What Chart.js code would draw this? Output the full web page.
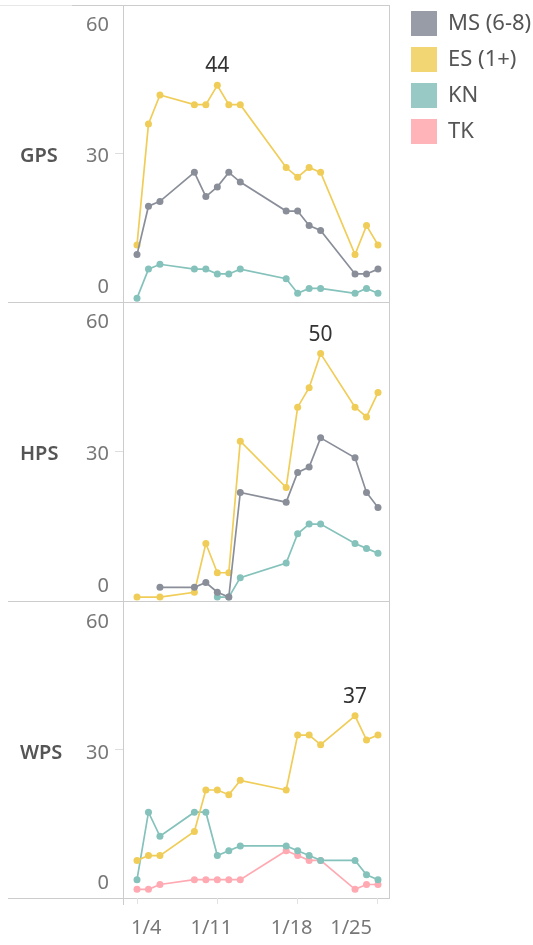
<!DOCTYPE html>
<html><head><meta charset="utf-8">
<script src="https://cdn.jsdelivr.net/npm/chart.js@4.4.1/dist/chart.umd.min.js"></script>
<style>
html,body{margin:0;padding:0;background:#fff;}
#wrap{position:relative;width:533px;height:945px;overflow:hidden;background:#fff;}
canvas{position:absolute;}
.ln{position:absolute;background:#cccccc;}
</style></head><body>
<div id="wrap">
  <div class="ln" style="left:0;top:5px;width:72px;height:1px;background:#e8e8e8"></div>
  <div class="ln" style="left:72px;top:5px;width:318px;height:1px"></div>
  <div class="ln" style="left:8px;top:302px;width:382px;height:1px"></div>
  <div class="ln" style="left:8px;top:601px;width:382px;height:1px"></div>
  <div class="ln" style="left:8px;top:898px;width:382px;height:1px"></div>
  <div class="ln" style="left:123px;top:5px;width:1px;height:900px"></div>
  <div class="ln" style="left:389px;top:5px;width:1px;height:894px"></div>
  <canvas id="c1" width="400" height="302" style="left:0;top:0"></canvas>
  <canvas id="c2" width="400" height="299" style="left:0;top:302px"></canvas>
  <canvas id="c3" width="400" height="344" style="left:0;top:601px"></canvas>
  <canvas id="lg" width="133" height="400" style="left:400px;top:0"></canvas>
</div>
<script>
// ---- data ----
const dates = ['1/4','1/5','1/6','1/9','1/10','1/11','1/12','1/13','1/17','1/18','1/19','1/20','1/23','1/24','1/25'];
const xTickLabels = ['1/4','1/11','1/18','1/25'];
const yTickValues = [0, 30, 60];
const seriesNames = ['MS (6-8)', 'ES (1+)', 'KN', 'TK'];
const panelNames = ['GPS', 'HPS', 'WPS'];

const gpsMS = [9, 19, 20, 26, 21, 23, 26, 24, 18, 18, 15, 14, 5, 5, 6];
const gpsES = [11, 36, 42, 40, 40, 44, 40, 40, 27, 25, 27, 26, 9, 15, 11];
const gpsKN = [0, 6, 7, 6, 6, 5, 5, 6, 4, 1, 2, 2, 1, 2, 1];

const hpsMS = [null, null, 2, 2, 3, 1, 0, 21.5, 19.5, 25.6, 26.7, 32.7, 28.6, 21.5, 18.4];
const hpsES = [0, null, 0, 1, 11, 5, 5, 32, 22.5, 39, 43, 50, 39, 37, 42];
const hpsKN = [null, null, null, null, null, 0, 0, 4, 7, 13, 15, 15, 11, 10, 9];

const wpsES = [7, 8, 8, 13, 21.6, 21.6, 20.6, 23.6, 21.6, 33, 33, 31, 37, 32, 33];
const wpsKN = [3, 17, 12, 17, 17, 8, 9, 10, 10, 9, 8, 7, 7, 4, 3];
const wpsTK = [1, 1, 2, 3, 3, 3, 3, 3, 9, 8, 7, 7, 1, 2, 2];

// ---- styles ----
const lineColors = {'MS (6-8)': '#898e99', 'ES (1+)': '#f0cd58', 'KN': '#84c2bb', 'TK': '#ffa9b2'};
const legendColors = {'MS (6-8)': '#979ca7', 'ES (1+)': '#f1d673', 'KN': '#99c9c4', 'TK': '#ffb4ba'};
const FONT = "'Noto Sans', 'DejaVu Sans', sans-serif";
Chart.defaults.font.family = FONT;

const dayNums = dates.map(d => Number(d.split('/')[1]));
const X_MIN = 2.78, X_MAX = 25.96, Y_MIN = -0.8, Y_MAX = 60.6;

const maxLabel = {
  id: 'maxLabel',
  afterDatasetsDraw(chart) {
    chart.data.datasets.forEach((ds, di) => {
      if (!ds.showMax) return;
      const meta = chart.getDatasetMeta(di);
      let best = 0;
      ds.data.forEach((p, i) => { if (p.y > ds.data[best].y) best = i; });
      const el = meta.data[best];
      const ctx = chart.ctx;
      ctx.save();
      ctx.font = '21px ' + FONT;
      ctx.fillStyle = '#333';
      ctx.textAlign = 'center';
      ctx.textBaseline = 'middle';
      ctx.fillText(String(Math.round(ds.data[best].y)), el.x, el.y - 19);
      ctx.restore();
    });
  }
};

// label nudges (pixels) so tick texts sit where the reference prints them
function yLabelLines(v) {
  if (v === 60) return ['', '60'];
  if (v === 0) return ['0', ''];
  return ['', String(v)];
}
function yLabelLineHeight(v) {
  if (v === 60) return '34px';
  if (v === 0) return '21px';
  return '7px';
}

function panelChart(id, name, series, showX, padTop, padBottom) {
  const datasets = series.map(s => ({
    label: s.label,
    data: dayNums.map((d, i) => ({x: d, y: s.values[i]})).filter(p => p.y !== null),
    borderColor: lineColors[s.label],
    backgroundColor: lineColors[s.label],
    pointBackgroundColor: lineColors[s.label],
    pointBorderWidth: 0,
    pointRadius: 3.5,
    borderWidth: 1.7,
    tension: 0,
    clip: false,
    showMax: s.label === 'ES (1+)'
  }));
  return new Chart(document.getElementById(id), {
    type: 'line',
    data: {datasets},
    options: {
      responsive: false, animation: false, events: [],
      layout: {autoPadding: false, padding: {left: 20, right: 11, top: padTop, bottom: padBottom}},
      plugins: {legend: {display: false}, tooltip: {enabled: false}},
      scales: {
        x: {
          type: 'linear', min: X_MIN, max: X_MAX, display: showX, position: 'bottom',
          afterBuildTicks: sc => { sc.ticks = xTickLabels.map(l => ({value: Number(l.split('/')[1])})); },
          afterFit: sc => { sc.height = showX ? 42 : 0; sc.paddingLeft = 0; sc.paddingRight = 0; },
          ticks: {
            callback: v => xTickLabels.find(l => Number(l.split('/')[1]) === v) || '',
            align: 'inner', labelOffset: -6, autoSkip: false, maxRotation: 0,
            font: {size: 20}, color: '#777', padding: 12
          },
          grid: {drawOnChartArea: false, tickLength: 6, color: '#e2e2e2'},
          border: {display: false}
        },
        y: {
          type: 'linear', min: Y_MIN, max: Y_MAX, position: 'left', weight: 0,
          afterBuildTicks: sc => { sc.ticks = yTickValues.map(v => ({value: v})); },
          afterFit: sc => { sc.width = 53; sc.paddingTop = 0; sc.paddingBottom = 0; },
          ticks: {
            callback: v => yLabelLines(v),
            font: ctx => ({size: 20, lineHeight: ctx.tick ? yLabelLineHeight(ctx.tick.value) : 1.2}),
            color: '#777', padding: 6
          },
          grid: {drawOnChartArea: false, tickLength: 8, color: ctx => (ctx.tick && ctx.tick.value === 30) ? '#dedede' : 'rgba(0,0,0,0)'},
          border: {display: false}
        },
        h: {
          type: 'linear', min: Y_MIN, max: Y_MAX, position: 'left', weight: 1,
          afterBuildTicks: sc => { sc.ticks = [{value: 30}]; },
          afterFit: sc => { sc.width = 50; sc.paddingTop = 0; sc.paddingBottom = 0; },
          ticks: {callback: () => ['', name], crossAlign: 'far', font: {size: 20, weight: '600', lineHeight: '7px'}, color: '#555', padding: 0},
          grid: {display: false},
          border: {display: false}
        }
      }
    },
    plugins: [maxLabel]
  });
}

panelChart('c1', panelNames[0], [
  {label: 'MS (6-8)', values: gpsMS},
  {label: 'ES (1+)', values: gpsES},
  {label: 'KN', values: gpsKN}
], false, 5, 0);

panelChart('c2', panelNames[1], [
  {label: 'MS (6-8)', values: hpsMS},
  {label: 'ES (1+)', values: hpsES},
  {label: 'KN', values: hpsKN}
], false, 0, 0);

panelChart('c3', panelNames[2], [
  {label: 'ES (1+)', values: wpsES},
  {label: 'KN', values: wpsKN},
  {label: 'TK', values: wpsTK}
], true, 1, 5);

new Chart(document.getElementById('lg'), {
  type: 'line',
  data: {datasets: seriesNames.map(n => ({label: n, data: [], backgroundColor: legendColors[n], borderColor: legendColors[n], borderWidth: 0}))},
  options: {
    responsive: false, animation: false, events: [],
    layout: {padding: 0, autoPadding: false},
    scales: {x: {display: false}, y: {display: false}},
    plugins: {
      tooltip: {enabled: false},
      legend: {position: 'top', align: 'start', labels: {boxWidth: 26, boxHeight: 25, padding: 11, font: {size: 22}, color: '#555'}}
    }
  }
});
</script>
</body></html>
